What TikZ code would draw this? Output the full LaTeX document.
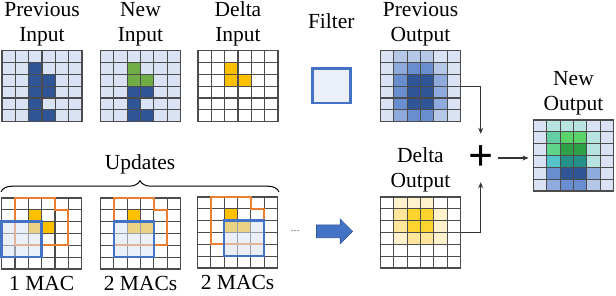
\documentclass[tikz,border=0pt]{standalone}
\usepackage{fontspec}
\setmainfont{Liberation Serif}
\usetikzlibrary{positioning,calc,arrows.meta,shapes.arrows,decorations.pathreplacing}

\definecolor{lightbg}{HTML}{DAE3F3}
\definecolor{blueA}{HTML}{B4C7E7}
\definecolor{blueB}{HTML}{8FAADC}
\definecolor{blueC}{HTML}{698ED0}
\definecolor{dkblue}{HTML}{2F5597}
\definecolor{fblue}{HTML}{4472C4}
\definecolor{grn}{HTML}{70AD47}
\definecolor{gold}{HTML}{FFC000}
\definecolor{orng}{HTML}{ED7D31}
\definecolor{tealL}{HTML}{B7E4E1}
\definecolor{tealM}{HTML}{55C3CA}
\definecolor{tealD}{HTML}{24908A}
\definecolor{tgrn}{HTML}{64CFA5}
\definecolor{grnL}{HTML}{5AD36B}
\definecolor{grnM}{HTML}{5ED38A}
\definecolor{grnD}{HTML}{2EA046}
\definecolor{ylwL}{HTML}{FFF2CC}
\definecolor{ylwM}{HTML}{FFE699}
\definecolor{ylwD}{HTML}{FFD42F}

\newcommand{\cellw}{13.333}
\newcommand{\cellh}{11.833}
% cells of a 6x6 grid: col/row/colour
\newcommand{\gridfill}[2]{\foreach \cx/\ry/\clr in {#2}
  {\fill[\clr] ($(#1.north west)+(\cx*\cellw,\ry*\cellh)$) rectangle ++(\cellw,\cellh);}}
\newcommand{\gridlines}[1]{\foreach \i in {0,...,6}
  {\draw[gridline] ($(#1.north west)+(\i*\cellw,0)$) -- ++(0,6*\cellh);
   \draw[gridline] ($(#1.north west)+(0,\i*\cellh)$) -- ++(6*\cellw,0);}}
\newcommand{\recfield}[1]{\draw[recep] ($(#1.north west)+(\cellw,0)$) -- ++(3*\cellw,0)
  -- ++(0,\cellh) -- ++(\cellw,0) -- ++(0,3*\cellh) -- ++(-4*\cellw,0) -- cycle;}
\newcommand{\filtersq}[2]{\draw[fbox] ($(#1.north west)+(#2*\cellw,2*\cellh)$) rectangle ++(3*\cellw,3*\cellh);}

\begin{document}
\begin{tikzpicture}[x=1pt, y=-1pt,
  gridbox/.style={rectangle, inner sep=0, outer sep=0, minimum width=80pt, minimum height=71pt, anchor=north west},
  gridline/.style={black!70, line width=1.1pt, line cap=rect},
  lbl/.style={font=\fontsize{21.5}{25}\selectfont, align=center, inner sep=0},
  recep/.style={draw=orng, line width=2pt},
  fbox/.style={draw=fblue, line width=2.6pt, fill=lightbg, fill opacity=0.55},
  arrow/.style={-{Stealth[length=6pt, width=5pt]}, black!80, line width=1.2pt},
  blockarrow/.style={single arrow, fill=fblue, draw=dkblue, line width=0.6pt, minimum height=36pt,
    minimum width=24pt, inner xsep=0pt, inner ysep=6.15pt, single arrow head extend=5.85pt},
]
\useasboundingbox (0,0) rectangle (616,296);

% === INPUTS ===
\node[gridbox, fill=lightbg] (previn) at (2,50.7) {};
\gridfill{previn}{2/1/dkblue, 2/2/dkblue, 3/2/dkblue, 2/3/dkblue, 3/3/dkblue, 2/4/dkblue, 2/5/dkblue, 3/5/dkblue}
\gridlines{previn}
\node[lbl, above=4.5pt of previn] (previnlbl) {Previous\\Input};

\node[gridbox, fill=lightbg] (newin) at (100.5,50.7) {};
\gridfill{newin}{2/1/grn, 2/2/grn, 3/2/grn, 2/3/dkblue, 3/3/dkblue, 2/4/dkblue, 2/5/dkblue, 3/5/dkblue}
\gridlines{newin}
\node[lbl, above=4.5pt of newin] (newinlbl) {New\\Input};

\node[gridbox, fill=white] (deltain) at (198,50.7) {};
\gridfill{deltain}{2/1/gold, 2/2/gold, 3/2/gold}
\gridlines{deltain}
\node[lbl, above=4.5pt of deltain] (deltainlbl) {Delta\\Input};

% === FILTER ===
\node[fbox, minimum width=38pt, minimum height=34.5pt] (filter) at (331.3,85.8) {};
\node[lbl, anchor=base] (filterlbl) at (331.3,29) {Filter};

% === OUTPUTS ===
\node[gridbox, fill=lightbg] (prevout) at (380.5,50.7) {};
\gridfill{prevout}{1/0/blueA, 2/0/blueA, 3/0/blueA,
  1/1/blueB, 2/1/blueC, 3/1/blueC, 4/1/blueA,
  1/2/blueC, 2/2/dkblue, 3/2/dkblue, 4/2/blueB,
  1/3/blueC, 2/3/dkblue, 3/3/dkblue, 4/3/blueB,
  1/4/blueC, 2/4/dkblue, 3/4/dkblue, 4/4/blueB,
  1/5/blueB, 2/5/blueC, 3/5/blueC, 4/5/blueA}
\gridlines{prevout}
\node[lbl, above=4.5pt of prevout] (prevoutlbl) {Previous\\Output};

\node[gridbox, fill=white] (deltaout) at (380.5,197) {};
\gridfill{deltaout}{1/0/ylwL, 2/0/ylwL, 3/0/ylwL,
  1/1/ylwM, 2/1/ylwD, 3/1/ylwD, 4/1/ylwL,
  1/2/ylwM, 2/2/ylwD, 3/2/ylwD, 4/2/ylwL,
  1/3/ylwL, 2/3/ylwM, 3/3/ylwM, 4/3/ylwL}
\gridlines{deltaout}
\node[lbl, above=4.5pt of deltaout] (deltaoutlbl) {Delta\\Output};

\node[gridbox, fill=lightbg] (newout) at (533.5,120) {};
\gridfill{newout}{1/0/tealL, 2/0/tealL, 3/0/tealL,
  1/1/tgrn, 2/1/grnL, 3/1/grnL, 4/1/tealL,
  1/2/grnM, 2/2/grnD, 3/2/grnD, 4/2/tealL,
  1/3/tealM, 2/3/tealD, 3/3/tealD, 4/3/tealL,
  1/4/blueC, 2/4/dkblue, 3/4/dkblue, 4/4/blueB,
  1/5/blueB, 2/5/blueC, 3/5/blueC, 4/5/blueA}
\gridlines{newout}
\node[lbl, above=4.5pt of newout] (newoutlbl) {New\\Output};

\node[font=\bfseries\fontsize{44}{44}\selectfont, minimum width=34pt, minimum height=48pt, inner sep=0] (plus) at (480.7,158) {+};
\draw[arrow] (prevout.east) -| (plus.north);
\draw[arrow] (deltaout.east) -| (plus.south);
\draw[arrow, shorten >=5pt] (plus.east) -- (plus.east -| newout.west);

% === UPDATES ===
\node[gridbox, fill=white] (upd1) at (1.7,198) {};
\node[gridbox, fill=white] (upd2) at (100.5,198) {};
\node[gridbox, fill=white] (upd3) at (197.5,197) {};
\gridfill{upd1}{2/1/gold, 2/2/gold, 3/2/gold}
\gridfill{upd2}{2/1/gold, 2/2/gold, 3/2/gold}
\gridfill{upd3}{2/1/gold, 2/2/gold, 3/2/gold}
\gridlines{upd1}
\gridlines{upd2}
\gridlines{upd3}
\recfield{upd1}
\recfield{upd2}
\recfield{upd3}
\filtersq{upd1}{0}
\filtersq{upd2}{1}
\filtersq{upd3}{2}
\node[lbl, below=7pt of upd1] (mac1) {1 MAC};
\node[lbl, below=7pt of upd2] (mac2) {2 MACs};
\node[lbl, below=7pt of upd3] (mac3) {2 MACs};

\coordinate (bracel) at (1,191.7);
\coordinate (bracer) at (279,191.7);
\draw[decorate, decoration={brace, amplitude=11pt}, line width=1pt] (bracel) -- (bracer);
\node[lbl, anchor=base] (updlbl) at (140,169.3) {Updates};

\node[font=\fontsize{9}{9}\selectfont, inner sep=0] (dots) at (295,230.7) {\ldots};
\node[blockarrow] (shift) at (331.3,231.3) {};
\end{tikzpicture}
\end{document}
